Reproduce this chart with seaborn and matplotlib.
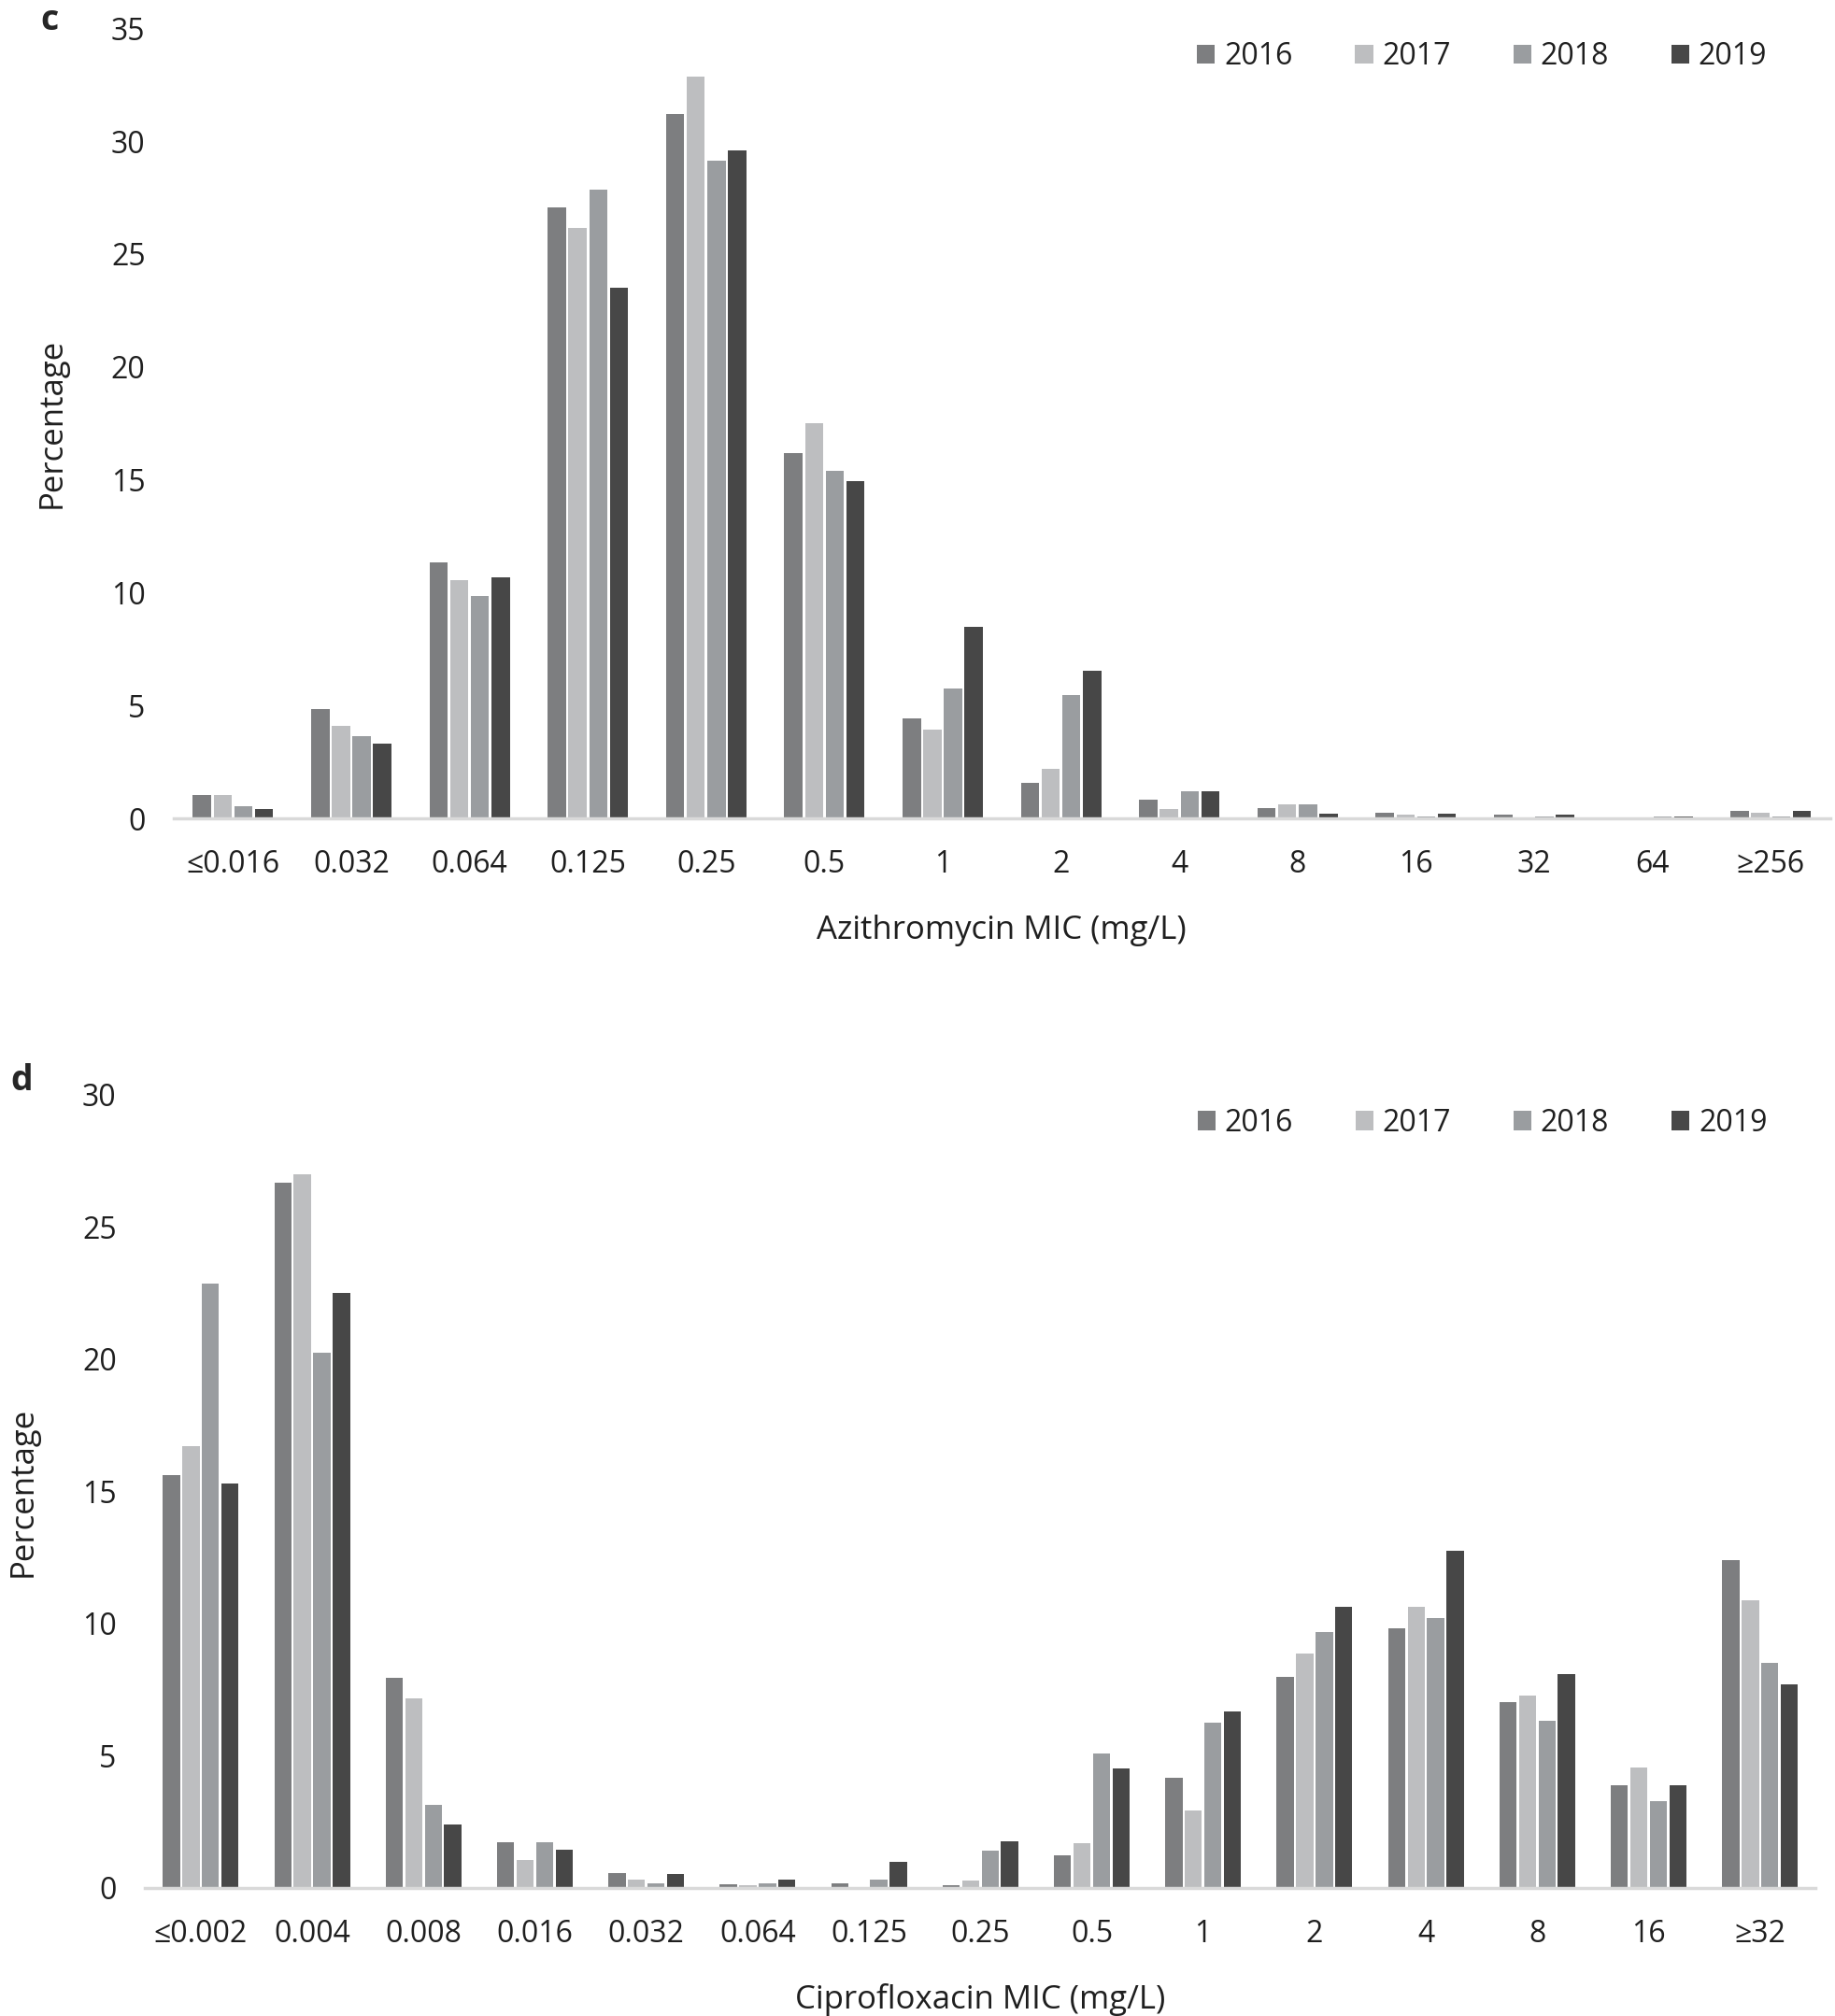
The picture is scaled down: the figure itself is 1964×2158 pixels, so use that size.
import pandas as pd
import matplotlib.pyplot as plt
import seaborn as sns

# Panel c: azithromycin MIC distribution (% of isolates per year)
azi_mic = ['≤0.016', '0.032', '0.064', '0.125', '0.25', '0.5', '1', '2',
           '4', '8', '16', '32', '64', '≥256']
azi_2016 = [1.05, 4.85, 11.36, 27.06, 31.19, 16.18, 4.43, 1.58, 0.84, 0.47, 0.26, 0.16, 0.0, 0.32]
azi_2017 = [1.05, 4.11, 10.57, 26.16, 32.86, 17.49, 3.95, 2.21, 0.40, 0.61, 0.16, 0.0, 0.0, 0.24]
azi_2018 = [0.55, 3.66, 9.86, 27.84, 29.15, 15.40, 5.74, 5.45, 1.19, 0.63, 0.08, 0.10, 0.08, 0.08]
azi_2019 = [0.40, 3.30, 10.69, 23.52, 29.58, 14.94, 8.48, 6.56, 1.19, 0.21, 0.21, 0.16, 0.10, 0.34]

# Panel d: ciprofloxacin MIC distribution
cip_mic = ['≤0.002', '0.004', '0.008', '0.016', '0.032', '0.064', '0.125', '0.25',
           '0.5', '1', '2', '4', '8', '16', '≥32']
cip_2016 = [15.63, 26.66, 7.95, 1.72, 0.57, 0.14, 0.19, 0.10, 1.22, 4.18, 8.00, 9.83, 7.02, 3.87, 12.39]
cip_2017 = [16.71, 26.99, 7.16, 1.07, 0.31, 0.10, 0.0, 0.29, 1.69, 2.94, 8.88, 10.64, 7.28, 4.56, 10.88]
cip_2018 = [22.86, 20.24, 3.15, 1.74, 0.19, 0.17, 0.31, 1.41, 5.08, 6.25, 9.69, 10.21, 6.32, 3.29, 8.50]
cip_2019 = [15.30, 22.51, 2.39, 1.43, 0.53, 0.31, 1.00, 1.77, 4.51, 6.68, 10.64, 12.77, 8.09, 3.87, 7.71]

years = ['2016', '2017', '2018', '2019']
year_colors = ['#7D7E80', '#BDBEC0', '#9A9DA0', '#474747']


def to_long(mic, series):
    """Wide per-year lists -> long dataframe for seaborn"""
    df = pd.DataFrame(dict(zip(years, series)), index=mic)
    df.index.name = 'mic'
    return df.reset_index().melt(id_vars='mic', var_name='year', value_name='pct')


def draw_panel(ax, df, xlabel, ymax, legend_anchor):
    sns.barplot(data=df, x='mic', y='pct', hue='year', palette=year_colors,
                width=0.7, gap=0.12, ax=ax, saturation=1, linewidth=0)
    ax.set_ylim(0, ymax)
    ax.set_yticks(range(0, ymax + 1, 5))
    ax.set_xlim(-0.5, len(df['mic'].unique()) - 0.5)
    for s in ['top', 'right', 'left']:
        ax.spines[s].set_visible(False)
    ax.spines['bottom'].set_color('#D9D9D9')
    ax.spines['bottom'].set_linewidth(2.5)
    ax.tick_params(axis='both', length=0, labelsize=23, colors='#1f1f1f')
    ax.tick_params(axis='x', pad=24)
    ax.tick_params(axis='y', pad=22)
    ax.set_xlabel(xlabel, fontsize=25, color='#1f1f1f', labelpad=26)
    ax.set_ylabel('Percentage', fontsize=25, color='#1f1f1f', labelpad=33)
    sns.move_legend(ax, 'center right', bbox_to_anchor=legend_anchor, ncol=4,
                    frameon=False, title=None, fontsize=23, handlelength=0.6,
                    handleheight=0.6, handletextpad=0.3, columnspacing=2.1,
                    borderaxespad=0, borderpad=0)
    for t in ax.get_legend().get_texts():
        t.set_color('#1f1f1f')


sns.set_style('white')
plt.rcParams['font.family'] = ['Open Sans', 'DejaVu Sans']

fig = plt.figure(figsize=(19.65, 21.58), dpi=100)
ax_c = fig.add_axes([0.0947, 0.594, 0.902, 0.392])
ax_d = fig.add_axes([0.079, 0.0635, 0.910, 0.3935])

draw_panel(ax_c, to_long(azi_mic, [azi_2016, azi_2017, azi_2018, azi_2019]),
           'Azithromycin MIC (mg/L)', 35, (0.962, 0.964))
draw_panel(ax_d, to_long(cip_mic, [cip_2016, cip_2017, cip_2018, cip_2019]),
           'Ciprofloxacin MIC (mg/L)', 30, (0.971, 0.964))

fig.text(0.027, 0.990, 'c', fontsize=27, fontweight='bold', va='center', ha='center')
fig.text(0.012, 0.464, 'd', fontsize=27, fontweight='bold', va='center', ha='center')

plt.savefig('out.png', dpi=100)
